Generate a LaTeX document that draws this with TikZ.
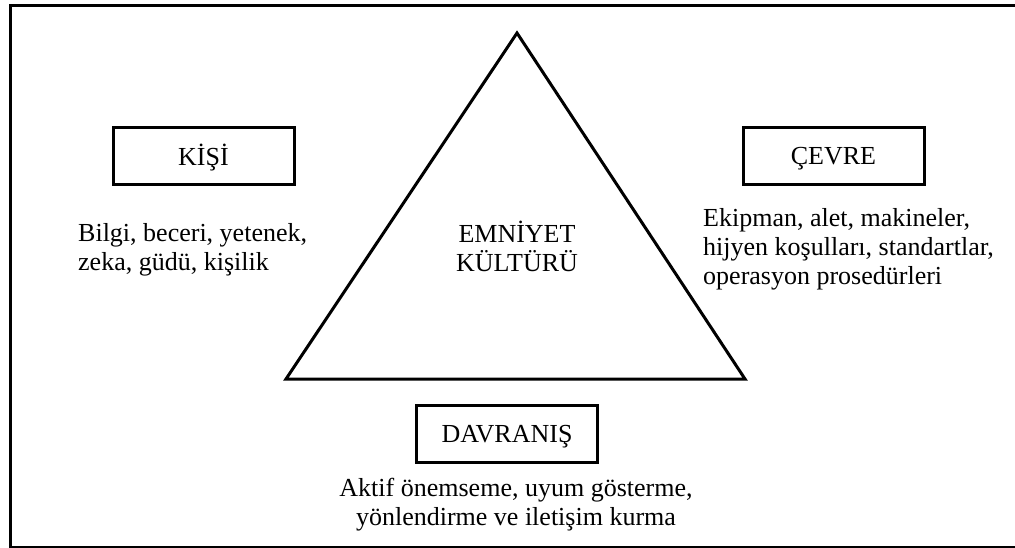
\documentclass[tikz,border=0pt]{standalone}
\usepackage{fontspec}
\setmainfont{Liberation Serif}
\begin{document}
\begin{tikzpicture}[x=1pt,y=-1pt,
  line/.style={line width=3pt},
  labelbox/.style={draw,line width=3pt,minimum width=181pt,minimum height=57pt,inner sep=0pt,
    text height=17.5pt,text depth=0pt,font=\fontsize{26}{28.5}\selectfont},
  caption/.style={inner sep=0pt,font=\fontsize{26}{29}\selectfont}
]
\useasboundingbox (0,0) rectangle (1015,548);
\clip (0,0) rectangle (1015,548);
% outer frame
\draw[line] (10,6) rectangle (1030,547);
% triangle
\coordinate (apex) at (517,33);
\coordinate (bl) at (286,379);
\coordinate (br) at (745,379);
\draw[line,line join=miter] (apex) -- (br) -- (bl) -- cycle;
\node[caption,align=center] (core) at (517,246) {EMNİYET\\KÜLTÜRÜ};
% the three factors
\node[labelbox] (kisi) at (203.5,156.5) {KİŞİ};
\node[labelbox] (cevre) at (833.5,156) {ÇEVRE};
\node[labelbox] (davranis) at (507,433.5) {DAVRANIŞ};
\node[caption,align=left,anchor=west] (kisitxt) at (78,249.5) {Bilgi, beceri, yetenek,\\zeka, güdü, kişilik};
\node[caption,align=left,anchor=west] (cevretxt) at (703,249.5) {Ekipman, alet, makineler,\\hijyen koşulları, standartlar,\\operasyon prosedürleri};
\node[caption,align=center] (davtxt) at (516,504.5) {Aktif önemseme, uyum gösterme,\\yönlendirme ve iletişim kurma};
\end{tikzpicture}
\end{document}
